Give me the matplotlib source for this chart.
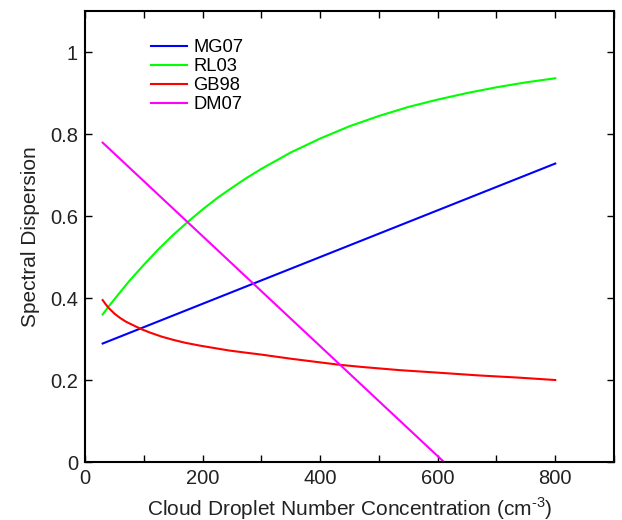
import matplotlib
matplotlib.use("Agg")
import matplotlib.pyplot as plt

plt.rcParams['font.family'] = ['Liberation Sans', 'DejaVu Sans']
plt.rcParams['mathtext.fontset'] = 'custom'
plt.rcParams['mathtext.rm'] = 'Liberation Sans'

# Cloud droplet number concentration (cm^-3)
n_mg07 = [30, 800]
mg07 = [0.289, 0.728]

n_rl03 = [30, 40, 50, 75, 100, 125, 150, 175, 200, 225, 250, 275, 300, 350, 400,
          450, 500, 550, 600, 650, 700, 750, 800]
rl03 = [0.360, 0.379, 0.397, 0.441, 0.481, 0.519, 0.554, 0.586, 0.616, 0.644, 0.669,
        0.693, 0.715, 0.755, 0.789, 0.819, 0.844, 0.866, 0.884, 0.900, 0.914, 0.926, 0.936]

n_gb98 = [30, 35, 40, 45, 50, 60, 70, 80, 96, 110, 130, 150, 170, 195, 220, 245, 272,
          300, 350, 400, 434, 470, 536, 600, 672, 736, 800]
gb98 = [0.395, 0.385, 0.376, 0.369, 0.362, 0.351, 0.342, 0.335, 0.324, 0.316, 0.306,
        0.298, 0.291, 0.284, 0.278, 0.272, 0.267, 0.262, 0.252, 0.243, 0.237, 0.232,
        0.224, 0.218, 0.211, 0.206, 0.200]

n_dm07 = [30, 800]
dm07 = [0.779, -0.254]

labels = ['MG07', 'RL03', 'GB98', 'DM07']
colors = ['#0000ff', '#00ff00', '#ff0000', '#ff00ff']

xticks = [0, 200, 400, 600, 800]
xminor = [100, 300, 500, 700, 900]
yticks = [0, 0.2, 0.4, 0.6, 0.8, 1.0]
yticklabels = ['0', '0.2', '0.4', '0.6', '0.8', '1']

fig = plt.figure(figsize=(6.22, 5.2), dpi=100)
ax = fig.add_axes([0.1367, 0.1115, 0.8505, 0.8673])

series = [(n_mg07, mg07), (n_rl03, rl03), (n_gb98, gb98), (n_dm07, dm07)]
for (x, y), lab, c in zip(series, labels, colors):
    ax.plot(x, y, color=c, lw=1.5, label=lab)

ax.set_xlim(0, 900)
ax.set_ylim(0, 1.1)
ax.set_xticks(xticks)
ax.set_xticks(xminor, minor=True)
ax.set_yticks(yticks)
ax.set_yticklabels(yticklabels)
ax.tick_params(which='both', direction='in', top=True, right=True,
               labelsize=14.5, width=1.0, length=5, pad=5, colors='black',
               labelcolor='#222222')
for s in ax.spines.values():
    s.set_linewidth(1.5)

ax.set_xlabel('Cloud Droplet Number Concentration (cm$^{\\text{-3}}$)',
              fontsize=15, color='#222222', labelpad=5)
ax.set_ylabel('Spectral Dispersion', fontsize=15, color='#222222', labelpad=7)

leg = ax.legend(loc='upper left', bbox_to_anchor=(0.125, 0.937), frameon=False,
                fontsize=13.2, handlelength=1.95, handletextpad=0.35,
                labelspacing=0.1, borderpad=0, borderaxespad=0)

fig.savefig('out.png', dpi=100)
